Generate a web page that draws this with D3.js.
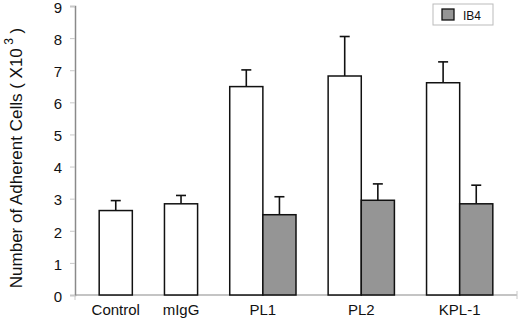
<!DOCTYPE html>
<html>
<head>
<meta charset="utf-8">
<script src="https://cdn.jsdelivr.net/npm/d3@7"></script>
<style>
body{margin:0;background:#fff;}
svg{display:block;font-family:"Liberation Sans",Arial,sans-serif;}
</style>
</head>
<body>
<svg width="520" height="319"></svg>
<script>
// values (x10^3 cells)
var categories = ['Control','mIgG','PL1','PL2','KPL-1'];
var ctrlMean = [2.63, 2.84, 6.49, 6.82, 6.61];
var ctrlErr  = [0.31, 0.26, 0.52, 1.23, 0.65];
var ib4Mean  = [null, null, 2.50, 2.95, 2.84];
var ib4Err   = [null, null, 0.56, 0.51, 0.58];
var yTicks = [0,1,2,3,4,5,6,7,8,9];

var svg = d3.select('svg');
var margin = {left:75,right:3,top:6,bottom:24};
var width = +svg.attr('width'), height = +svg.attr('height');
var innerwidth = width - margin.left - margin.right;
var innerheight = height - margin.top - margin.bottom;

// layout in "bar units": each bar is 1 unit, gaps between groups and edges
var gapU = 0.97, edgeU = 0.73;
var groups = [];
var pos = edgeU;
categories.forEach(function(c,i){
	var bars = [{s:'ctrl',v:ctrlMean[i],e:ctrlErr[i]}];
	if(ib4Mean[i] != null) bars.push({s:'ib4',v:ib4Mean[i],e:ib4Err[i]});
	groups.push({cat:c,start:pos,bars:bars});
	pos += bars.length + (i < categories.length-1 ? gapU : 0);
});
pos += edgeU;

var xscale = d3.scaleLinear().domain([0,pos]).range([0,innerwidth]);
var yscale = d3.scaleLinear().domain([0,9]).range([innerheight,0]);

var g = svg.append('g').attr('transform',`translate(${margin.left},${margin.top})`);

// y axis
var yax = g.append('g').call(d3.axisLeft(yscale).tickValues(yTicks).tickSize(5).tickPadding(8).tickFormat(d3.format('d')));
yax.select('.domain').attr('stroke','#8a8a8a').attr('stroke-width',1.5);
yax.selectAll('.tick line').attr('stroke','#c8c8c8');
yax.selectAll('.tick text').attr('font-size',15).attr('dy','0.42em').attr('fill','#111').attr('font-family','Liberation Sans, Arial, sans-serif');

// x axis line
g.append('line').attr('x1',0).attr('x2',innerwidth).attr('y1',innerheight).attr('y2',innerheight)
	.attr('stroke','#8a8a8a').attr('stroke-width',1.2);
g.append('line').attr('x1',innerwidth).attr('x2',innerwidth).attr('y1',innerheight-4).attr('y2',innerheight+4)
	.attr('stroke','#c8c8c8');
g.append('line').attr('x1',0).attr('x2',0).attr('y1',innerheight).attr('y2',innerheight+5)
	.attr('stroke','#c8c8c8');

var fills = {ctrl:'#ffffff', ib4:'#959595'};

groups.forEach(function(gr){
	var gg = g.append('g');
	gg.selectAll('line.err').data(gr.bars).enter().append('line')
		.attr('x1',(d,i)=>xscale(gr.start+i+0.5)).attr('x2',(d,i)=>xscale(gr.start+i+0.5))
		.attr('y1',d=>yscale(d.v)).attr('y2',d=>yscale(d.v+d.e))
		.attr('stroke','#111').attr('stroke-width',1.6);
	gg.selectAll('line.cap').data(gr.bars).enter().append('line')
		.attr('x1',(d,i)=>xscale(gr.start+i+0.5)-5).attr('x2',(d,i)=>xscale(gr.start+i+0.5)+5)
		.attr('y1',d=>yscale(d.v+d.e)).attr('y2',d=>yscale(d.v+d.e))
		.attr('stroke','#111').attr('stroke-width',1.6);
	gg.selectAll('rect').data(gr.bars).enter().append('rect')
		.attr('x',(d,i)=>xscale(gr.start+i))
		.attr('y',d=>yscale(d.v))
		.attr('width',xscale(1)-xscale(0))
		.attr('height',d=>innerheight-yscale(d.v))
		.attr('fill',d=>fills[d.s]).attr('stroke','#111').attr('stroke-width',1.5);
	gg.append('text')
		.attr('x',xscale(gr.start+gr.bars.length/2))
		.attr('y',innerheight+20)
		.attr('text-anchor','middle').attr('font-size',15).attr('fill','#111')
		.text(gr.cat);
});

// y label
var yl = svg.append('text')
	.attr('transform','translate(22,158) rotate(-90)')
	.attr('text-anchor','middle').attr('font-size',17).attr('fill','#111');
yl.append('tspan').text('Number of Adherent Cells ( X10');
yl.append('tspan').attr('dy',-9).attr('font-size',12).text(' 3');
yl.append('tspan').attr('dy',9).text(' )');

// legend
var lg = svg.append('g').attr('transform','translate(433,4)');
lg.append('rect').attr('width',60).attr('height',21).attr('fill','#fff').attr('stroke','#bbb');
lg.append('rect').attr('x',9).attr('y',5).attr('width',12).attr('height',11)
	.attr('fill',fills.ib4).attr('stroke','#111').attr('stroke-width',1.3);
lg.append('text').attr('x',30).attr('y',15.5).attr('font-size',12).attr('fill','#111').text('IB4');
</script>
</body>
</html>
